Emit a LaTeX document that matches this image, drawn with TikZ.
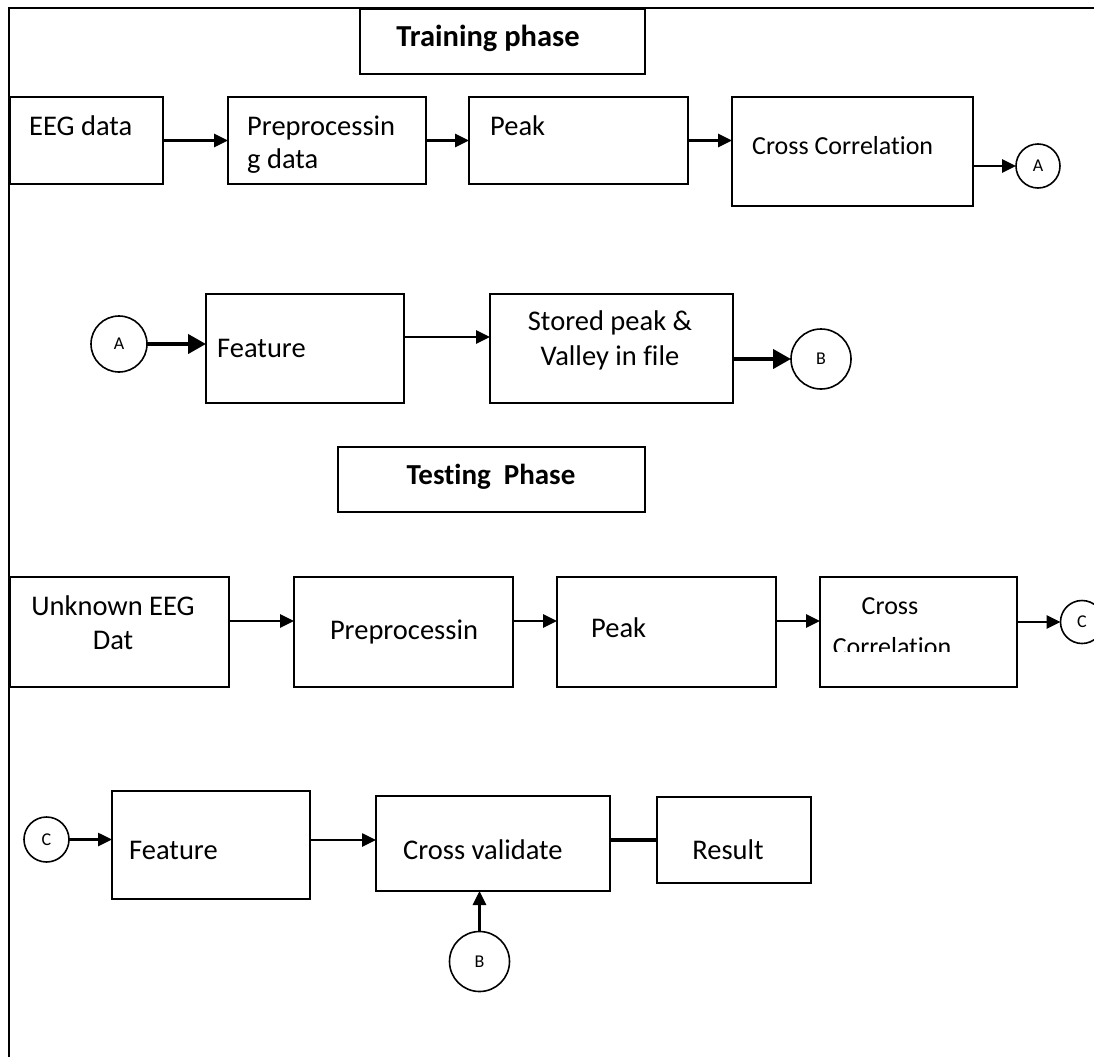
\documentclass[tikz,border=0pt]{standalone}
\usepackage{fontspec}
\setmainfont{Carlito}[Ligatures=NoCommon]
\usetikzlibrary{arrows.meta}
\begin{document}
\begin{tikzpicture}[x=1pt,y=-1pt,
  box/.style={draw, line width=2pt, inner sep=0pt, outer sep=0pt},
  circ/.style={draw, circle, line width=1.6pt, inner sep=0pt, outer sep=0pt, font=\fontsize{18}{20}\selectfont},
  txt/.style={inner sep=0pt, font=\fontsize{28.5}{32}\selectfont},
  stxt/.style={inner sep=0pt, font=\fontsize{26}{30}\selectfont},
  ttl/.style={inner sep=0pt, font=\fontsize{29}{32}\selectfont\bfseries},
  arr/.style={line width=2.6pt, -{Triangle[length=14pt,width=13pt]}},
  tarr/.style={line width=4pt, -{Triangle[length=18pt,width=19pt]}},
  plain/.style={line width=4pt},
]
\useasboundingbox (0,0) rectangle (1094,1057);
\clip (0,0) rectangle (1094,1057);
\fill[white] (0,0) rectangle (1094,1057);

% outer frame
\coordinate (fbl) at (9,1057);
\coordinate (ftl) at (9,8);
\coordinate (ftr) at (1094,8);
\draw[line width=2pt] (fbl) -- (ftl) -- (ftr);

% ---------- Training phase ----------
\node[box, minimum width=285, minimum height=65] (train) at (502.5,41.5) {};
\node[ttl, anchor=base, font=\fontsize{30.5}{33}\selectfont\bfseries] (traint) at (488,47) {Training phase};

% row 1
\node[box, minimum width=153, minimum height=87] (eeg) at (86.5,140.5) {};
\node[txt, anchor=base west] (eegt) at (29,135) {EEG data};
\node[box, minimum width=198, minimum height=87] (pre1) at (327,140.5) {};
\node[txt, anchor=base west] (pre1a) at (247,135) {Preprocessin};
\node[txt, anchor=base west] (pre1b) at (247,168) {g data};
\node[box, minimum width=219, minimum height=87] (peak1) at (578.5,140.5) {};
\node[txt, anchor=base west] (peak1t) at (490,135) {Peak};
\node[box, minimum width=241, minimum height=109] (cc1) at (852.5,151.5) {};
\node[stxt, anchor=base west] (cc1t) at (752,154) {Cross Correlation};
\node[circ, minimum size=44] (A1) at (1038,166) {A};

\draw[arr] (eeg.east) -- (pre1.west);
\draw[arr] (pre1.east) -- (peak1.west);
\draw[arr] (peak1.east) -- (peak1.east -| cc1.west);
\draw[arr] (cc1.east |- A1.west) -- (A1.west);

% row 2
\node[circ, minimum size=56] (A2) at (119,344) {A};
\node[box, minimum width=198, minimum height=109] (feat1) at (305,348.5) {};
\node[txt, anchor=base west] (feat1t) at (217,357) {Feature};
\node[box, minimum width=243, minimum height=109] (stored) at (611.5,348.5) {};
\node[txt, anchor=base] (storeda) at (610,330) {Stored peak \&};
\node[txt, anchor=base] (storedb) at (610,365) {Valley in file};
\node[circ, minimum size=60] (B1) at (821,359) {B};

\draw[tarr] (A2.east) -- (A2.east -| feat1.west);
\draw[arr] ([yshift=11.5pt]feat1.east) -- ([yshift=11.5pt]feat1.east -| stored.west);
\draw[tarr] (stored.east |- B1.west) -- (B1.west);

% ---------- Testing phase ----------
\node[box, minimum width=307, minimum height=65] (test) at (491.5,479.5) {};
\node[ttl, anchor=base] (testt) at (491,484) {Testing~ Phase};

% row 3
\node[box, minimum width=219, minimum height=110] (unk) at (119.5,632) {};
\node[txt, anchor=base] (unka) at (113,615) {Unknown EEG};
\node[txt, anchor=base] (unkb) at (113,649) {Dat};
\node[box, minimum width=219, minimum height=110] (pre2) at (403.5,632) {};
\node[txt, anchor=base] (pre2t) at (404,639) {Preprocessin};
\node[box, minimum width=219, minimum height=110] (peak2) at (666.5,632) {};
\node[txt, anchor=base west] (peak2t) at (591,637) {Peak};
\node[box, minimum width=197, minimum height=110] (cc2) at (918.5,632) {};
\node[stxt, anchor=base] (cc2a) at (890,614) {Cross};
\begin{scope}
  \clip (cc2.north west) rectangle ([yshift=-74pt]cc2.north east);
  \node[stxt, anchor=base] (cc2b) at (892,655) {Correlation};
\end{scope}
\node[circ, minimum size=43] (C1) at (1082,622) {C};

\draw[arr] ([yshift=11pt]unk.east) -- ([yshift=11pt]pre2.west);
\draw[arr] ([yshift=11pt]pre2.east) -- ([yshift=11pt]peak2.west);
\draw[arr] ([yshift=11pt]peak2.east) -- ([yshift=11pt]cc2.west);
\draw[arr] (cc2.east |- C1.west) -- (C1.west);

% row 4
\node[circ, minimum size=45] (C2) at (46.5,839.5) {C};
\node[box, minimum width=198, minimum height=108] (feat2) at (211,845) {};
\node[txt, anchor=base west] (feat2t) at (129,859) {Feature};
\node[box, minimum width=234, minimum height=95] (cv) at (493,843.5) {};
\node[txt, anchor=base west] (cvt) at (403,859) {Cross validate};
\node[box, minimum width=154, minimum height=86] (res) at (734,840) {};
\node[txt, anchor=base] (rest) at (728,859) {Result};
\node[circ, minimum size=60] (B2) at (479.5,961.5) {B};

\draw[arr] (C2.east) -- (C2.east -| feat2.west);
\draw[arr] ([yshift=5pt]feat2.east) -- ([yshift=5pt]feat2.east -| cv.west);
\draw[plain] (cv.east |- res.west) -- (res.west);
\draw[arr, line width=3pt] (B2.north) -- (B2.north |- cv.south);
\end{tikzpicture}
\end{document}
